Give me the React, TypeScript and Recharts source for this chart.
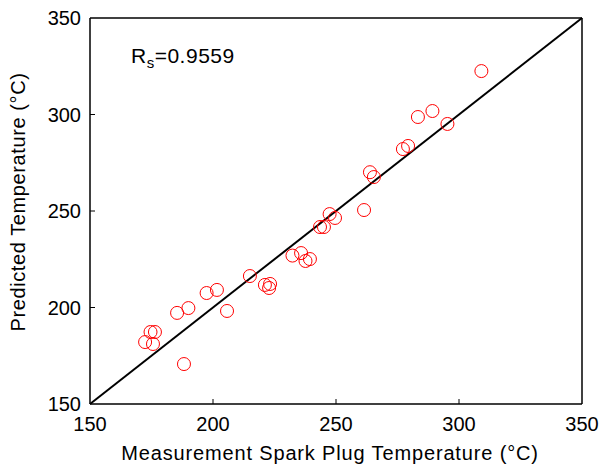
import React from 'react';
import { ScatterChart, Scatter, XAxis, YAxis, ReferenceLine } from 'recharts';

const measured = [172.4, 174.6, 176.4, 175.6, 188.2, 185.4, 190.0, 197.4, 201.6, 205.7, 215.0, 221.1, 223.2, 222.8, 232.3, 235.8, 237.6, 239.4, 243.5, 245.1, 247.4, 249.6, 261.4, 263.8, 265.4, 277.2, 279.3, 283.3, 289.2, 295.3, 309.1];
const predicted = [182.1, 187.3, 187.3, 181.1, 170.7, 197.2, 199.7, 207.5, 209.1, 198.2, 216.3, 211.7, 212.2, 210.1, 226.9, 228.2, 224.1, 225.1, 241.7, 241.7, 248.4, 246.4, 250.5, 270.1, 267.6, 282.1, 283.7, 298.7, 301.8, 295.1, 322.5];
const tickValues = [150, 200, 250, 300, 350];
const innerTicks = [200, 250, 300];
const rsLabel = '0.9559';
const xTitle = 'Measurement Spark Plug Temperature (°C)';
const yTitle = 'Predicted Temperature (°C)';

const points = measured.map((m, i) => ({ x: m, y: predicted[i] }));

const FONT = '"Liberation Sans", Arial, sans-serif';

const BottomTick = (props: any) => {
  const { x, y, payload } = props;
  const inner = innerTicks.includes(payload.value);
  return (
    <g>
      {inner && <line x1={x} y1={y} x2={x} y2={y - 5} stroke="#000" strokeWidth={1} />}
      <text x={x} y={y + 27} textAnchor="middle" fill="#000" fontSize={20} fontFamily={FONT}>
        {payload.value}
      </text>
    </g>
  );
};

const TopTick = (props: any) => {
  const { x, y, payload } = props;
  const inner = innerTicks.includes(payload.value);
  return inner ? <line x1={x} y1={y} x2={x} y2={y + 5} stroke="#000" strokeWidth={1} /> : <g />;
};

const LeftTick = (props: any) => {
  const { x, y, payload } = props;
  const inner = innerTicks.includes(payload.value);
  return (
    <g>
      {inner && <line x1={x} y1={y} x2={x + 5} y2={y} stroke="#000" strokeWidth={1} />}
      <text x={x - 9} y={y} dy="0.355em" textAnchor="end" fill="#000" fontSize={20} fontFamily={FONT}>
        {payload.value}
      </text>
    </g>
  );
};

const RightTick = (props: any) => {
  const { x, y, payload } = props;
  const inner = innerTicks.includes(payload.value);
  return inner ? <line x1={x} y1={y} x2={x - 5} y2={y} stroke="#000" strokeWidth={1} /> : <g />;
};

const Ring = (props: any) => {
  const { cx, cy } = props;
  return <circle cx={cx} cy={cy} r={6.5} fill="none" stroke="#ff0000" strokeWidth={1} />;
};

const XTitle = (props: any) => {
  const vb = props.viewBox || { x: 90, y: 404, width: 492, height: 64 };
  const cx = vb.x + vb.width / 2 - 6;
  return (
    <text x={cx} y={vb.y + 56} textAnchor="middle" fill="#000" fontSize={20} fontFamily={FONT} letterSpacing={0.85}>
      {xTitle}
    </text>
  );
};

const YTitle = (props: any) => {
  const vb = props.viewBox || { x: 0, y: 18, width: 90, height: 386 };
  const cx = vb.x + 25;
  const cy = vb.y + vb.height / 2 - 9;
  return (
    <text x={cx} y={cy} textAnchor="middle" fill="#000" fontSize={20} fontFamily={FONT} letterSpacing={0.6} transform={`rotate(-90, ${cx}, ${cy})`}>
      {yTitle}
    </text>
  );
};

export default function App() {
  return (
    <div style={{ position: 'absolute', left: 0, top: 0, width: 600, height: 468, background: '#fff' }}>
      <ScatterChart width={600} height={468} margin={{ top: 0, right: 0, bottom: 0, left: 0 }}>
        <XAxis
          xAxisId="b"
          dataKey="x"
          type="number"
          domain={[150, 350]}
          ticks={tickValues}
          orientation="bottom"
          height={64}
          tickSize={0}
          tickMargin={0}
          tickLine={false}
          axisLine={{ stroke: '#000', strokeWidth: 1.5 }}
          tick={BottomTick}
          interval={0}
          label={{ content: XTitle }}
        />
        <XAxis
          xAxisId="t"
          dataKey="x"
          type="number"
          domain={[150, 350]}
          ticks={tickValues}
          orientation="top"
          height={18}
          tickSize={0}
          tickMargin={0}
          tickLine={false}
          axisLine={{ stroke: '#000', strokeWidth: 1.5 }}
          tick={TopTick}
          interval={0}
        />
        <YAxis
          yAxisId="l"
          dataKey="y"
          type="number"
          domain={[150, 350]}
          ticks={tickValues}
          orientation="left"
          width={90}
          tickSize={0}
          tickMargin={0}
          tickLine={false}
          axisLine={{ stroke: '#000', strokeWidth: 1.5 }}
          tick={LeftTick}
          interval={0}
          label={{ content: YTitle }}
        />
        <YAxis
          yAxisId="r"
          dataKey="y"
          type="number"
          domain={[150, 350]}
          ticks={tickValues}
          orientation="right"
          width={18}
          tickSize={0}
          tickMargin={0}
          tickLine={false}
          axisLine={{ stroke: '#000', strokeWidth: 1.5 }}
          tick={RightTick}
          interval={0}
        />
        <ReferenceLine
          xAxisId="b"
          yAxisId="l"
          segment={[{ x: 150, y: 150 }, { x: 350, y: 350 }]}
          stroke="#000"
          strokeWidth={2}
        />
        <Scatter xAxisId="b" yAxisId="l" data={points} shape={Ring} isAnimationActive={false} />
      </ScatterChart>
      <div
        style={{
          position: 'absolute',
          left: 131,
          top: 44,
          fontFamily: FONT,
          fontSize: 21,
          letterSpacing: 0.5,
          color: '#000',
          lineHeight: '24px',
          whiteSpace: 'nowrap',
        }}
      >
        R<span style={{ fontSize: 15, position: 'relative', top: 5 }}>s</span>={rsLabel}
      </div>
    </div>
  );
}
